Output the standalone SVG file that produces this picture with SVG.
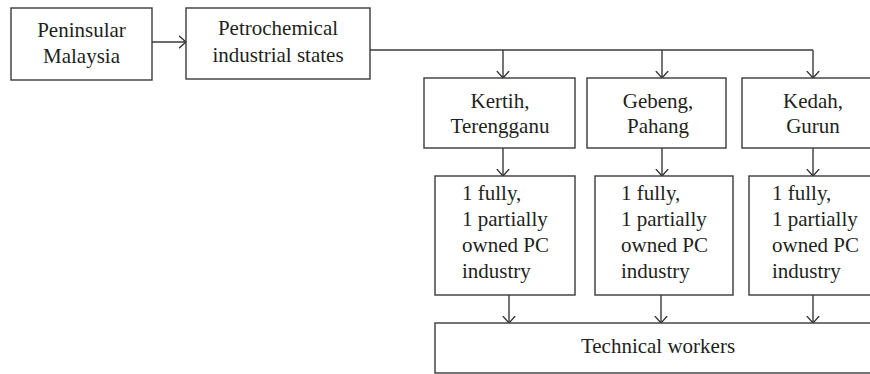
<svg xmlns="http://www.w3.org/2000/svg" width="870" height="374" viewBox="0 0 870 374">
<defs>
<marker id="arr" viewBox="0 0 8 14" refX="7.5" refY="7" markerWidth="8" markerHeight="14" markerUnits="userSpaceOnUse" orient="auto">
<path d="M0.5,0.8 L7.5,7 L0.5,13.2" fill="none" stroke="#333" stroke-width="1.3"/>
</marker>
</defs>
<style>
.box{fill:#fff;stroke:#3a3a3a;stroke-width:1.4}
.t{font-family:"Liberation Serif","Times New Roman",serif;font-size:21px;fill:#231f20}
.c{text-anchor:middle}
.ln{fill:none;stroke:#3a3a3a;stroke-width:1.4}
.a{marker-end:url(#arr)}
</style>
<rect width="870" height="374" fill="#fff"/>
<g id="connectors">
<path class="ln a" d="M152,42 H186"/>
<path class="ln" d="M370,50 H813"/>
<path class="ln a" d="M503,50 V78"/>
<path class="ln a" d="M662,50 V78"/>
<path class="ln a" d="M813,50 V78"/>
<path class="ln a" d="M503,148 V176"/>
<path class="ln a" d="M662,148 V176"/>
<path class="ln a" d="M813,148 V176"/>
<path class="ln a" d="M509,295 V323"/>
<path class="ln a" d="M661,295 V323"/>
<path class="ln a" d="M813,295 V323"/>
</g>
<g id="peninsular">
<rect class="box" x="11" y="8" width="141" height="72"/>
<text class="t c" x="81.5" y="37">Peninsular</text>
<text class="t c" x="81.5" y="63">Malaysia</text>
</g>
<g id="petrochemical">
<rect class="box" x="186" y="8" width="184" height="71"/>
<text class="t c" x="278" y="35">Petrochemical</text>
<text class="t c" x="278" y="62">industrial states</text>
</g>
<g id="kertih">
<rect class="box" x="424" y="78" width="151" height="70"/>
<text class="t c" x="500" y="108">Kertih,</text>
<text class="t c" x="500" y="133">Terengganu</text>
</g>
<g id="gebeng">
<rect class="box" x="587" y="78" width="139" height="70"/>
<text class="t c" x="658" y="108">Gebeng,</text>
<text class="t c" x="658" y="133">Pahang</text>
</g>
<g id="kedah">
<rect class="box" x="742" y="78" width="140" height="70"/>
<text class="t c" x="813" y="108">Kedah,</text>
<text class="t c" x="813" y="133">Gurun</text>
</g>
<g id="pc1">
<rect class="box" x="435" y="176" width="140" height="119"/>
<text class="t" x="462" y="200">1 fully,</text>
<text class="t" x="462" y="226">1 partially</text>
<text class="t" x="462" y="252">owned PC</text>
<text class="t" x="462" y="278">industry</text>
</g>
<g id="pc2">
<rect class="box" x="595" y="176" width="138" height="119"/>
<text class="t" x="621" y="200">1 fully,</text>
<text class="t" x="621" y="226">1 partially</text>
<text class="t" x="621" y="252">owned PC</text>
<text class="t" x="621" y="278">industry</text>
</g>
<g id="pc3">
<rect class="box" x="749" y="176" width="140" height="119"/>
<text class="t" x="772" y="200">1 fully,</text>
<text class="t" x="772" y="226">1 partially</text>
<text class="t" x="772" y="252">owned PC</text>
<text class="t" x="772" y="278">industry</text>
</g>
<g id="technical">
<rect class="box" x="435" y="323" width="460" height="50"/>
<text class="t c" x="658" y="353">Technical workers</text>
</g>
</svg>
